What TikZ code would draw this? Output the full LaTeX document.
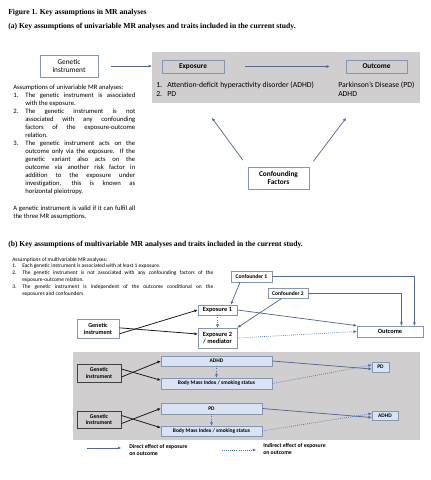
\documentclass[tikz,border=0pt]{standalone}
\usepackage{fontspec}
\setmainfont{Carlito}
\newfontfamily\titlefont{Liberation Serif}
\usetikzlibrary{arrows.meta}

\newcommand{\mritem}[3]{\noindent\hangindent=#1\hangafter=1\makebox[#1][l]{#2}#3\par}

\begin{document}
\begin{tikzpicture}[x=0.75pt,y=0.75pt,yscale=-1,xscale=1,
  box/.style={draw={rgb, 255:red, 132; green, 151; blue, 176}, line width=0.6pt, inner sep=0pt, align=center},
  boxa/.style={box, font=\fontsize{5.5}{6.6}\selectfont\bfseries},
  boxb/.style={box, fill=white, font=\fontsize{4.8}{5.3}\selectfont\bfseries},
  trait/.style={box, fill={rgb, 255:red, 218; green, 227; blue, 243}, font=\fontsize{4.1}{4.6}\selectfont\bfseries},
  instr/.style={draw={rgb, 255:red, 64; green, 64; blue, 64}, fill={rgb, 255:red, 208; green, 206; blue, 206}, line width=0.7pt, inner sep=0pt, align=center, font=\fontsize{4.3}{5}\selectfont\bfseries},
  tip/.style={-{Triangle[length=2.4pt,width=1.9pt]}},
  direct/.style={tip, draw={rgb, 255:red, 84; green, 104; blue, 145}, line width=0.55pt},
  indirect/.style={tip, draw={rgb, 255:red, 68; green, 114; blue, 196}, line width=0.55pt, densely dotted},
  gene/.style={tip, draw={rgb, 255:red, 30; green, 30; blue, 30}, line width=0.6pt},
  heading/.style={anchor=west, inner sep=0pt, font=\titlefont\fontsize{5.7}{6.5}\selectfont\bfseries}
]
\useasboundingbox (0,0) rectangle (430,480);

%Titles
\node[heading] (fig) at (8,13) {Figure 1. Key assumptions in MR analyses};
\node[heading] (parta) at (8,27) {(a) Key assumptions of univariable MR analyses and traits included in the current study.};

%Shape: Rectangle  
\node[fill={rgb, 255:red, 208; green, 206; blue, 206}, minimum width=201pt, minimum height=38.25pt, inner sep=0pt] (panelA) at (286,77.5) {};
\node[boxa, fill=white, font=\fontsize{5.5}{6.6}\selectfont, minimum width=43.5pt, minimum height=16.5pt] (gen) at (69,66) {Genetic\\instrument};
\node[boxa, minimum width=46.5pt, minimum height=9.75pt] (expo) at (193,66.5) {Exposure};
\node[boxa, minimum width=45.75pt, minimum height=9.75pt] (outc) at (376.5,66.5) {Outcome};
\node[boxa, fill=white, minimum width=45.75pt, minimum height=16.5pt] (conf) at (278.5,178) {Confounding\\Factors};

%Traits
\node[anchor=north west, inner sep=0pt, align=left, font=\fontsize{5.8}{6.75}\selectfont] (expolist) at (156,82) {\makebox[8.25pt][l]{1.}Attention-deficit hyperactivity disorder (ADHD)\\\makebox[8.25pt][l]{2.}PD};
\node[anchor=north west, inner sep=0pt, align=left, font=\fontsize{5.8}{6.75}\selectfont] (outclist) at (338,82) {Parkinson’s Disease (PD)\\ADHD};

%Straight Lines  
\draw[direct, shorten <=9.75pt] (gen.east) -- (gen.east -| panelA.west);
\draw[direct, shorten <=15.75pt, shorten >=12pt] (expo) -- (outc);
\coordinate (confL) at (212,118);
\coordinate (confR) at (346,118);
\draw[direct, shorten <=6pt] (conf.north west) -- (confL);
\draw[direct, shorten <=5pt] (conf.north east) -- (confR);

%Assumptions (a)
\node[anchor=north west, inner sep=0pt, text width=91.5pt, align=justify, font=\fontsize{5}{6}\selectfont] (assuma) at (13,85) {%
\noindent Assumptions of univariable MR analyses:\par
\mritem{9pt}{1.}{The genetic instrument is associated \linebreak with the exposure.}
\mritem{9pt}{2.}{The genetic instrument is not \linebreak associated with any confounding \linebreak factors of the exposure-outcome \linebreak relation.}
\mritem{9pt}{3.}{The genetic instrument acts on the \linebreak outcome only via the exposure. If the \linebreak genetic variant also acts on the \linebreak outcome via another risk factor in \linebreak addition to the exposure under \linebreak investigation, this is known as \linebreak horizontal pleiotropy.}
\vspace{6.75pt}
\noindent A genetic instrument is valid if it can fulfil all \linebreak the three MR assumptions.\par};

%Part (b)
\node[heading] (partb) at (8,245) {(b) Key assumptions of multivariable MR analyses and traits included in the current study.};
\node[anchor=north west, inner sep=0pt, text width=150.75pt, align=justify, font=\fontsize{4.1}{5.1}\selectfont] (assumb) at (12,257) {%
\noindent Assumptions of multivariable MR analyses:\par
\mritem{7.5pt}{1.}{Each genetic instrument is associated with at least 1 exposure.}
\mritem{7.5pt}{2.}{The genetic instrument is not associated with any confounding factors of the \linebreak exposure-outcome relation.}
\mritem{7.5pt}{3.}{The genetic instrument is independent of the outcome conditional on the \linebreak exposures and confounders}};

%Shape: Rectangle  
\node[boxb, font=\fontsize{4.2}{5}\selectfont\bfseries, minimum width=30.75pt, minimum height=8.25pt] (conf1) at (251.5,276.5) {Confounder 1};
\node[boxb, font=\fontsize{4.2}{5}\selectfont\bfseries, minimum width=30pt, minimum height=7.5pt] (conf2) at (288,293.5) {Confounder 2};
\node[boxb, minimum width=29.25pt, minimum height=7.5pt] (exp1) at (217.5,310) {Exposure 1};
\node[boxb, minimum width=29.25pt, minimum height=15pt] (exp2) at (217.5,338) {Exposure 2\\/ mediator};
\node[boxb, font=\fontsize{4.6}{5.4}\selectfont\bfseries, minimum width=31.5pt, minimum height=14.25pt] (genb) at (98,328.5) {Genetic\\instrument};
\node[boxb, minimum width=49.5pt, minimum height=8.25pt] (outb) at (390,331.5) {Outcome};

%Straight Lines  
\draw[direct] (conf1.east) -| ([xshift=-6.75pt]outb.north east);
\draw[direct] (conf2.east) -| ([xshift=-16.5pt]outb.north east);
\draw[direct] ([xshift=-8.6pt]conf1.south) -- ([xshift=10pt]exp1.north);
\draw[direct] ([xshift=-5.25pt]conf2.south) -- (exp2.north east);
\draw[direct] (exp1.east) -- (outb.north west);
\draw[indirect] (exp2.east) -- (outb.west);
\draw[indirect] (exp1.south) -- (exp2.north);
\draw[gene] ([yshift=4pt]genb.east) -- (exp1.west);
\draw[gene] ([yshift=-0.5pt]genb.east) -- ([yshift=-3pt]exp2.west);

%Shape: Rectangle  
\fill[fill={rgb, 255:red, 208; green, 206; blue, 206}] (73,352) rectangle (420,440);

%ADHD -> PD
\node[instr, minimum width=33pt, minimum height=13.5pt] (g1) at (99,373) {Genetic\\instrument};
\node[trait, minimum width=83.25pt, minimum height=7.5pt] (adhd1) at (216.5,361) {ADHD};
\node[trait, minimum width=83.25pt, minimum height=8.25pt] (bmi1) at (216.5,383.5) {Body Mass Index / smoking status};
\node[trait, minimum width=12.75pt, minimum height=7.5pt] (pd1) at (380.5,367) {PD};
\draw[gene] ([yshift=3pt]g1.east) -- (adhd1.west);
\draw[gene] ([yshift=-3pt]g1.east) -- ([yshift=-2.5pt]bmi1.west);
\draw[direct] (adhd1.east) -- ([yshift=1.5pt]pd1.west);
\draw[indirect] (bmi1.east) -- ([yshift=-1.5pt]pd1.west);
\draw[indirect] (adhd1.south) -- (bmi1.north);

%PD -> ADHD
\node[instr, minimum width=33pt, minimum height=12.75pt] (g2) at (99,419.5) {Genetic\\instrument};
\node[trait, minimum width=75.75pt, minimum height=8.25pt] (pd2) at (211.5,408.5) {PD};
\node[trait, minimum width=75.75pt, minimum height=7.5pt] (bmi2) at (211.5,431) {Body Mass Index / smoking status};
\node[trait, minimum width=19.5pt, minimum height=6.75pt] (adhd2) at (385,415.5) {ADHD};
\draw[gene] ([yshift=3pt]g2.east) -- (pd2.west);
\draw[gene] ([yshift=-3pt]g2.east) -- ([yshift=-2.5pt]bmi2.west);
\draw[direct] (pd2.east) -- ([yshift=1.5pt]adhd2.west);
\draw[indirect] (bmi2.east) -- ([yshift=-1.5pt]adhd2.west);
\draw[indirect] (pd2.south) -- (bmi2.north);

%Legend
\coordinate (dirA) at (87,448);
\coordinate (dirB) at (121,448);
\coordinate (indA) at (222,450);
\coordinate (indB) at (256,450);
\draw[direct] (dirA) -- (dirB);
\draw[indirect] (indA) -- (indB);
\node[anchor=north west, inner sep=0pt, align=left, font=\fontsize{4.3}{5.6}\selectfont\bfseries] (dirtext) at (129,444) {Direct effect of exposure\\on outcome};
\node[anchor=north west, inner sep=0pt, align=left, font=\fontsize{4.3}{5.6}\selectfont\bfseries] (indtext) at (263,443) {Indirect effect of exposure\\on outcome};
\end{tikzpicture}
\end{document}
